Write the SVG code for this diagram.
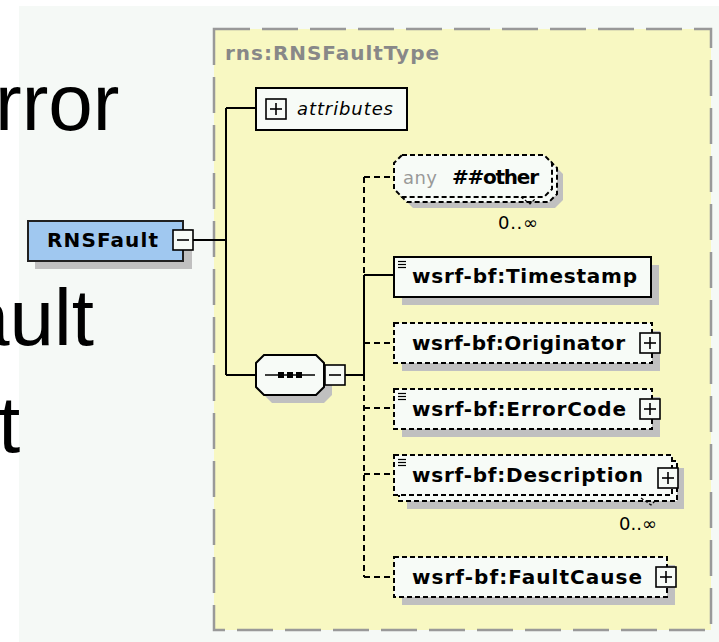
<svg xmlns="http://www.w3.org/2000/svg" width="719" height="642" viewBox="0 0 719 642">
  <style>
    .slide { font-family: "Liberation Sans", Arial, sans-serif; font-size: 80px; fill: #000; }
    .box { fill: #f7fbf7; stroke: #000; stroke-width: 2; }
    .dbox { fill: #f7fbf7; stroke: #000; stroke-width: 2; stroke-dasharray: 5 3; }
    .shadow { fill: #c0c0c0; }
    .wire { fill: none; stroke: #000; stroke-width: 2; }
    .dwire { fill: none; stroke: #000; stroke-width: 2; stroke-dasharray: 6 4; }
    .btn { fill: #f7fbf7; stroke: #000; stroke-width: 1.6; }
    .sign { stroke: #000; stroke-width: 1.6; }
    .name { font-family: "DejaVu Sans", "Liberation Sans", sans-serif; font-weight: bold; font-size: 20px; fill: #000; }
    .occ { font-family: "DejaVu Sans", "Liberation Sans", sans-serif; font-size: 18px; fill: #000; }
    .doc { stroke: #000; stroke-width: 1.2; }
  </style>
  <defs>
    <g id="plus">
      <rect class="btn" x="0" y="0" width="20" height="20"/>
      <line class="sign" x1="4" y1="10" x2="16" y2="10"/>
      <line class="sign" x1="10" y1="4" x2="10" y2="16"/>
    </g>
    <g id="minus">
      <rect class="btn" x="0" y="0" width="20" height="20"/>
      <line class="sign" x1="4" y1="10" x2="16" y2="10"/>
    </g>
    <g id="docmark">
      <line class="doc" x1="0" y1="0.5" x2="8" y2="0.5"/>
      <line class="doc" x1="0" y1="3.5" x2="8" y2="3.5"/>
      <line class="doc" x1="0" y1="6.5" x2="8" y2="6.5"/>
    </g>
  </defs>

  <!-- page background -->
  <rect x="0" y="0" width="719" height="642" fill="#ffffff"/>
  <rect x="19" y="6" width="700" height="636" fill="#f5f9f6"/>

  <!-- complex type frame -->
  <g id="type-frame">
    <rect x="214" y="29" width="497" height="601" fill="#f8f8c2" stroke="#999" stroke-width="2.5" stroke-dasharray="36 12"/>
    <text x="225" y="60" font-family="DejaVu Sans, Liberation Sans, sans-serif" font-weight="bold" font-size="20" fill="#888" textLength="214">rns:RNSFaultType</text>
  </g>

  <!-- connectors -->
  <g id="connectors">
    <path class="wire" d="M193 240 H226 M226 108 V375 M226 108 H256 M226 375 H256"/>
    <path class="wire" d="M344 375 H364 M364 275 V375 M364 275 H394"/>
    <path class="dwire" d="M364 177 V275 M364 375 V577 M364 177 H394 M364 343 H394 M364 408 H394 M364 474 H394 M364 577 H394"/>
  </g>

  <!-- root element -->
  <g id="node-rnsfault">
    <rect class="shadow" x="35" y="229" width="157" height="40"/>
    <rect x="28" y="221" width="155" height="40" fill="#a0c8f0" stroke="#202020" stroke-width="2"/>
    <text class="name" x="47" y="247" textLength="111">RNSFault</text>
    <use href="#minus" x="173" y="230"/>
  </g>

  <!-- attributes -->
  <g id="node-attributes">
    <rect class="box" x="256" y="88" width="151" height="42"/>
    <use href="#plus" x="266" y="99"/>
    <text x="297" y="115" font-family="DejaVu Sans, Liberation Sans, sans-serif" font-style="italic" font-size="18" fill="#000" textLength="96">attributes</text>
  </g>

  <!-- sequence compositor -->
  <g id="node-sequence">
    <polygon class="shadow" points="272,363 324,363 332,371 332,395 324,403 272,403 264,395 264,371"/>
    <polygon class="box" points="264,355 316,355 324,363 324,387 316,395 264,395 256,387 256,363"/>
    <line x1="265" y1="375" x2="315" y2="375" stroke="#000" stroke-width="1.6"/>
    <rect x="278" y="372" width="6" height="6" fill="#000"/>
    <rect x="287" y="372" width="6" height="6" fill="#000"/>
    <rect x="296" y="372" width="6" height="6" fill="#000"/>
    <use href="#minus" x="325" y="365"/>
  </g>

  <!-- any ##other -->
  <g id="node-any">
    <polygon class="shadow" points="413,166 555,166 563,174 563,200 555,208 413,208 405,200 405,174"/>
    <polygon class="dbox" points="407,160 549,160 557,168 557,194 549,202 407,202 399,194 399,168"/>
    <polygon class="dbox" points="402,155 544,155 552,163 552,189 544,197 402,197 394,189 394,163"/>
    <text x="403" y="184" font-family="DejaVu Sans, Liberation Sans, sans-serif" font-size="18" fill="#999" textLength="34">any</text>
    <text class="name" x="452" y="184" textLength="87">##other</text>
    <polyline points="521,197 530,204 535,199" fill="none" stroke="#000" stroke-width="1.2" stroke-dasharray="3 2"/>
    <text class="occ" x="498" y="229" textLength="40">0..∞</text>
  </g>

  <!-- wsrf-bf:Timestamp -->
  <g id="node-timestamp">
    <rect class="shadow" x="402" y="265" width="257" height="40"/>
    <rect class="box" x="394" y="257" width="257" height="40"/>
    <use href="#docmark" x="398" y="261"/>
    <text class="name" x="412" y="283" textLength="225">wsrf-bf:Timestamp</text>
  </g>

  <!-- wsrf-bf:Originator -->
  <g id="node-originator">
    <rect class="shadow" x="402" y="331" width="258" height="40"/>
    <rect class="dbox" x="394" y="323" width="258" height="40"/>
    <text class="name" x="412" y="350" textLength="213">wsrf-bf:Originator</text>
    <use href="#plus" x="640" y="333"/>
  </g>

  <!-- wsrf-bf:ErrorCode -->
  <g id="node-errorcode">
    <rect class="shadow" x="402" y="397" width="258" height="40"/>
    <rect class="dbox" x="394" y="389" width="258" height="40"/>
    <use href="#docmark" x="398" y="393"/>
    <text class="name" x="412" y="416" textLength="214">wsrf-bf:ErrorCode</text>
    <use href="#plus" x="640" y="399"/>
  </g>

  <!-- wsrf-bf:Description -->
  <g id="node-description">
    <rect class="shadow" x="407" y="468" width="277" height="41"/>
    <rect class="dbox" x="399" y="461" width="278" height="40"/>
    <rect class="dbox" x="394" y="455" width="278" height="40"/>
    <use href="#docmark" x="398" y="459"/>
    <text class="name" x="412" y="482" textLength="231">wsrf-bf:Description</text>
    <use href="#plus" x="658" y="468"/>
    <polyline points="641,498 651,505 655,501" fill="none" stroke="#000" stroke-width="1.2" stroke-dasharray="3 2"/>
    <text class="occ" x="619" y="530" textLength="38">0..∞</text>
  </g>

  <!-- wsrf-bf:FaultCause -->
  <g id="node-faultcause">
    <rect class="shadow" x="402" y="565" width="273" height="40"/>
    <rect class="dbox" x="394" y="557" width="273" height="40"/>
    <text class="name" x="412" y="584" textLength="230">wsrf-bf:FaultCause</text>
    <use href="#plus" x="656" y="567"/>
  </g>

  <!-- slide text partly under the diagram -->
  <g id="slide-text">
    <text class="slide" x="-5" y="130">rror</text>
    <text class="slide" x="-35" y="345">ault</text>
    <text class="slide" x="-2" y="452">t</text>
  </g>
</svg>
